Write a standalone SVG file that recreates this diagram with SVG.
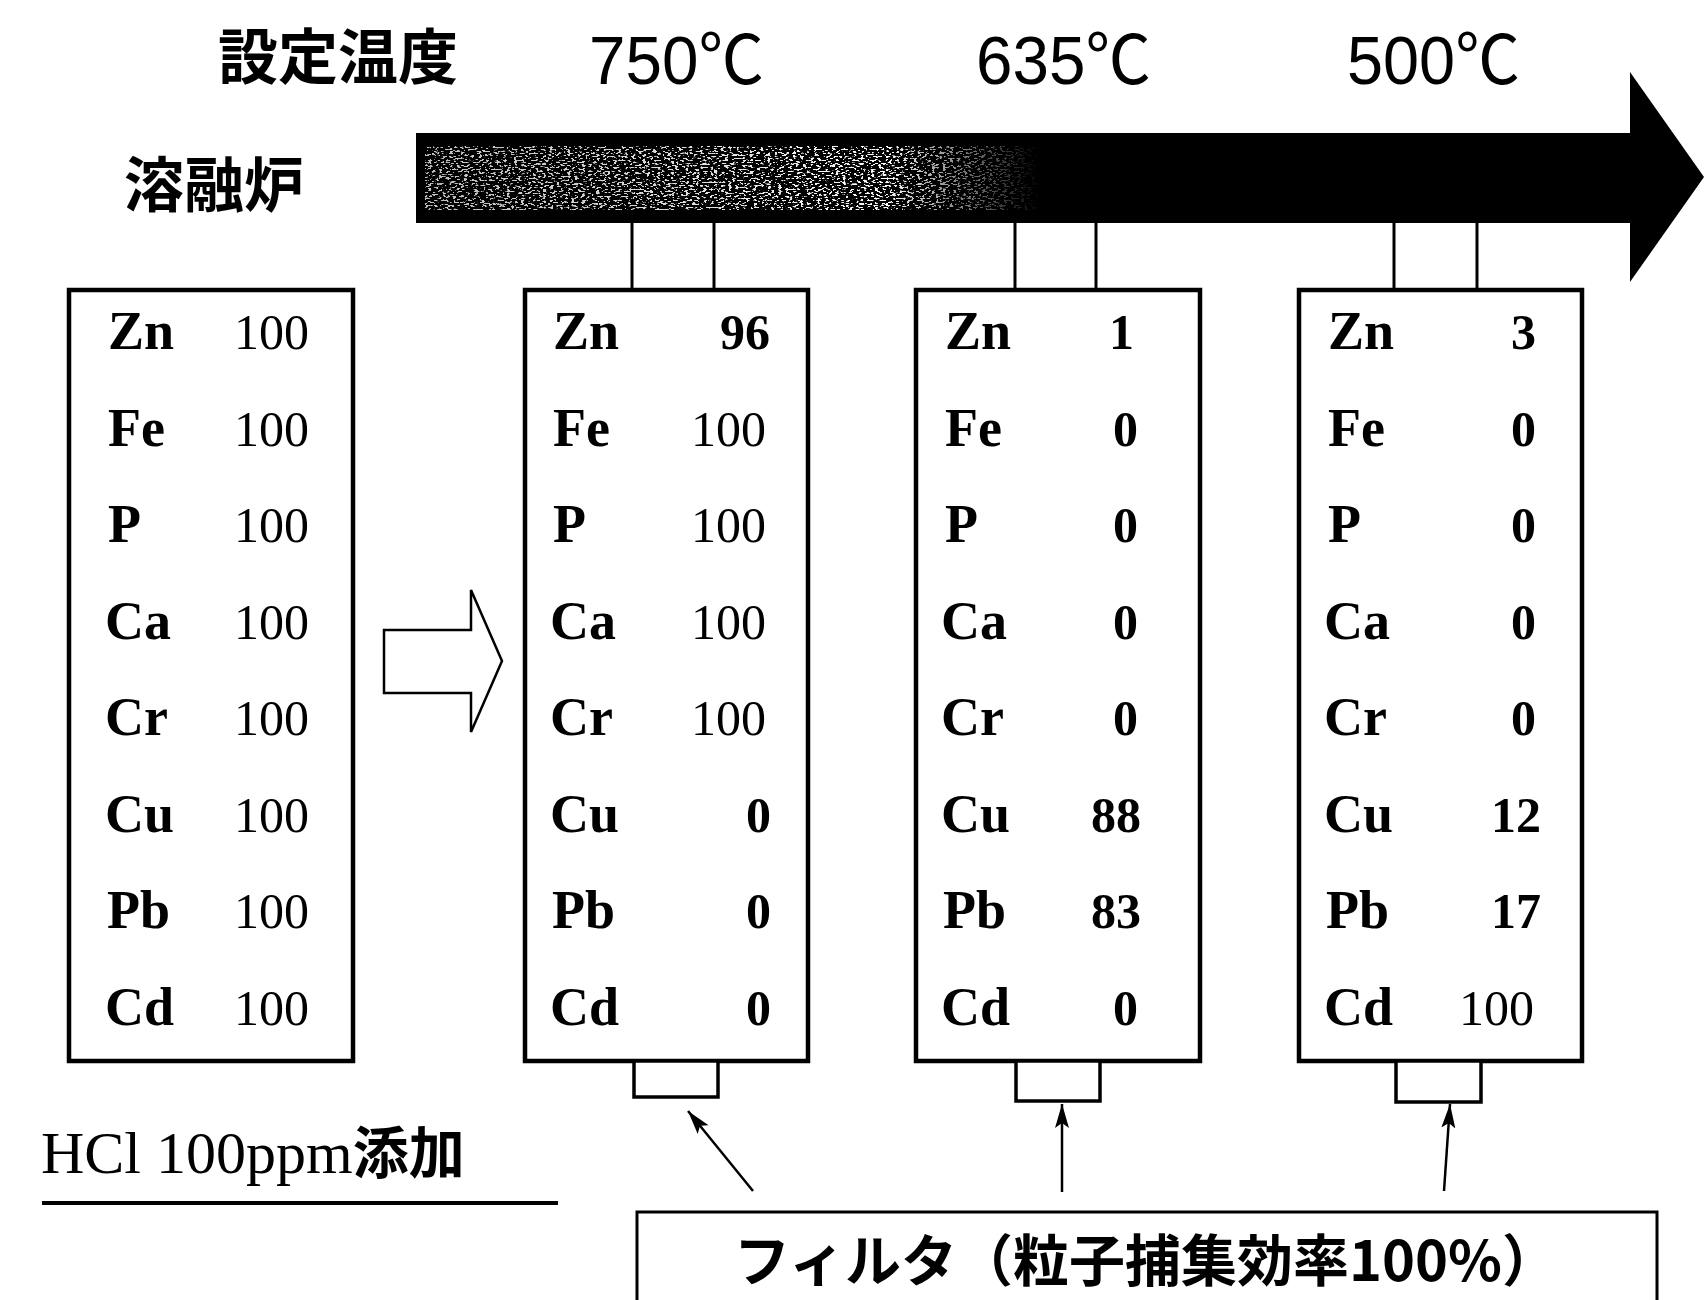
<svg xmlns="http://www.w3.org/2000/svg" width="1705" height="1300" viewBox="0 0 1705 1300">
<style>
.jp{font-family:"Noto Sans CJK JP","Noto Sans CJK SC",sans-serif;font-weight:bold;fill:#000}
.tmp{font-family:"Liberation Sans","Noto Sans CJK JP",sans-serif;font-size:68px;fill:#000}
.el{font-family:"Liberation Serif",serif;font-weight:bold;font-size:54px;fill:#000}
.num{font-family:"Liberation Serif",serif;font-size:50px;fill:#000;text-anchor:end}
.nb{font-weight:bold}
.box{fill:#fff;stroke:#000;stroke-width:4.5}
.stub{stroke:#000;stroke-width:3;fill:none}
.flt{fill:#fff;stroke:#000;stroke-width:3.5}
.thin{stroke:#000;stroke-width:2.5;fill:none;marker-end:url(#ah)}
</style>
<defs>
<marker id="ah" markerUnits="userSpaceOnUse" markerWidth="26" markerHeight="16" refX="24" refY="8" orient="auto">
<path d="M0,1 L24,8 L0,15 L5,8 Z" fill="#000"/>
</marker>
<linearGradient id="fade" gradientUnits="userSpaceOnUse" x1="425" y1="0" x2="1040" y2="0">
<stop offset="0" stop-color="#fff" stop-opacity="0.75"/>
<stop offset="0.35" stop-color="#fff" stop-opacity="0.85"/>
<stop offset="0.75" stop-color="#fff" stop-opacity="1"/>
<stop offset="1" stop-color="#fff" stop-opacity="0"/>
</linearGradient>
<filter id="spk" filterUnits="userSpaceOnUse" x="420" y="140" width="630" height="80">
<feTurbulence type="fractalNoise" baseFrequency="0.28 0.55" numOctaves="2" seed="11" result="n"/>
<feColorMatrix in="n" type="matrix" values="0 0 0 0 1  0 0 0 0 1  0 0 0 0 1  16 0 0 0 -8.9" result="w"/>
<feComposite in="w" in2="SourceGraphic" operator="in"/>
</filter>
</defs>
<rect width="1705" height="1300" fill="#fff"/>

<g id="header">
<text class="jp" x="218" y="79" font-size="60">設定温度</text>
<text class="jp" x="124" y="207" font-size="60">溶融炉</text>
<text class="tmp" x="589" y="84" textLength="175" lengthAdjust="spacingAndGlyphs">750℃</text>
<text class="tmp" x="976" y="84" textLength="175" lengthAdjust="spacingAndGlyphs">635℃</text>
<text class="tmp" x="1347" y="84" textLength="173" lengthAdjust="spacingAndGlyphs">500℃</text>
</g>

<g id="furnace">
<polygon points="416,133 1630,133 1630,72 1704,177 1630,282 1630,223 416,223" fill="#000"/>
<rect x="425" y="146" width="615" height="64" fill="url(#fade)" filter="url(#spk)"/>
</g>

<g id="connectors">
<line class="stub" x1="632" y1="223" x2="632" y2="290"/>
<line class="stub" x1="714" y1="223" x2="714" y2="290"/>
<line class="stub" x1="1015" y1="223" x2="1015" y2="290"/>
<line class="stub" x1="1096" y1="223" x2="1096" y2="290"/>
<line class="stub" x1="1394" y1="223" x2="1394" y2="290"/>
<line class="stub" x1="1477" y1="223" x2="1477" y2="290"/>
<line class="thin" x1="753" y1="1191" x2="688" y2="1111"/>
<line class="thin" x1="1062" y1="1192" x2="1062" y2="1104"/>
<line class="thin" x1="1444" y1="1191" x2="1450" y2="1104"/>
</g>

<g id="table-feed">
<rect class="box" x="69" y="290" width="284" height="771"/>
<text class="el" x="108" y="349">Zn</text><text class="num" x="309" y="349">100</text>
<text class="el" x="108" y="446">Fe</text><text class="num" x="309" y="446">100</text>
<text class="el" x="108" y="542">P</text><text class="num" x="309" y="542">100</text>
<text class="el" x="105" y="639">Ca</text><text class="num" x="309" y="639">100</text>
<text class="el" x="105" y="735">Cr</text><text class="num" x="309" y="735">100</text>
<text class="el" x="105" y="832">Cu</text><text class="num" x="309" y="832">100</text>
<text class="el" x="107" y="928">Pb</text><text class="num" x="309" y="928">100</text>
<text class="el" x="105" y="1025">Cd</text><text class="num" x="309" y="1025">100</text>
</g>

<g id="hollow-arrow">
<polygon points="384,630 471,630 471,590 502,661 471,732 471,693 384,693" fill="#fff" stroke="#000" stroke-width="2.5"/>
</g>

<g id="table-750">
<rect class="box" x="525" y="290" width="283" height="771"/>
<text class="el" x="553" y="349">Zn</text><text class="num nb" x="770" y="349">96</text>
<text class="el" x="553" y="446">Fe</text><text class="num" x="766" y="446">100</text>
<text class="el" x="553" y="542">P</text><text class="num" x="766" y="542">100</text>
<text class="el" x="550" y="639">Ca</text><text class="num" x="766" y="639">100</text>
<text class="el" x="550" y="735">Cr</text><text class="num" x="766" y="735">100</text>
<text class="el" x="550" y="832">Cu</text><text class="num nb" x="771" y="832">0</text>
<text class="el" x="552" y="928">Pb</text><text class="num nb" x="771" y="928">0</text>
<text class="el" x="550" y="1025">Cd</text><text class="num nb" x="771" y="1025">0</text>
</g>

<g id="table-635">
<rect class="box" x="916" y="290" width="284" height="771"/>
<text class="el" x="945" y="349">Zn</text><text class="num nb" x="1134" y="349">1</text>
<text class="el" x="945" y="446">Fe</text><text class="num nb" x="1138" y="446">0</text>
<text class="el" x="945" y="542">P</text><text class="num nb" x="1138" y="542">0</text>
<text class="el" x="941" y="639">Ca</text><text class="num nb" x="1138" y="639">0</text>
<text class="el" x="941" y="735">Cr</text><text class="num nb" x="1138" y="735">0</text>
<text class="el" x="941" y="832">Cu</text><text class="num nb" x="1141" y="832">88</text>
<text class="el" x="943" y="928">Pb</text><text class="num nb" x="1141" y="928">83</text>
<text class="el" x="941" y="1025">Cd</text><text class="num nb" x="1138" y="1025">0</text>
</g>

<g id="table-500">
<rect class="box" x="1299" y="290" width="283" height="771"/>
<text class="el" x="1328" y="349">Zn</text><text class="num nb" x="1536" y="349">3</text>
<text class="el" x="1328" y="446">Fe</text><text class="num nb" x="1536" y="446">0</text>
<text class="el" x="1328" y="542">P</text><text class="num nb" x="1536" y="542">0</text>
<text class="el" x="1324" y="639">Ca</text><text class="num nb" x="1536" y="639">0</text>
<text class="el" x="1324" y="735">Cr</text><text class="num nb" x="1536" y="735">0</text>
<text class="el" x="1324" y="832">Cu</text><text class="num nb" x="1541" y="832">12</text>
<text class="el" x="1326" y="928">Pb</text><text class="num nb" x="1541" y="928">17</text>
<text class="el" x="1324" y="1025">Cd</text><text class="num" x="1534" y="1025">100</text>
</g>

<g id="filter-750"><rect class="flt" x="634" y="1061" width="84" height="36"/></g>
<g id="filter-635"><rect class="flt" x="1016" y="1061" width="84" height="40"/></g>
<g id="filter-500"><rect class="flt" x="1396" y="1061" width="85" height="41"/></g>

<g id="note-hcl">
<text x="41" y="1173" font-family="Liberation Serif, Noto Sans CJK JP, serif" font-size="60" fill="#000">HCl 100ppm<tspan font-family="Noto Sans CJK JP, sans-serif" font-weight="bold" font-size="56">添加</tspan></text>
<line x1="42" y1="1203" x2="558" y2="1203" stroke="#000" stroke-width="4"/>
</g>

<g id="filter-label">
<rect x="637" y="1212" width="1020" height="130" fill="#fff" stroke="#000" stroke-width="3"/>
<text class="jp" x="1146" y="1281" font-size="56" text-anchor="middle">フィルタ（粒子捕集効率100%）</text>
</g>
</svg>
